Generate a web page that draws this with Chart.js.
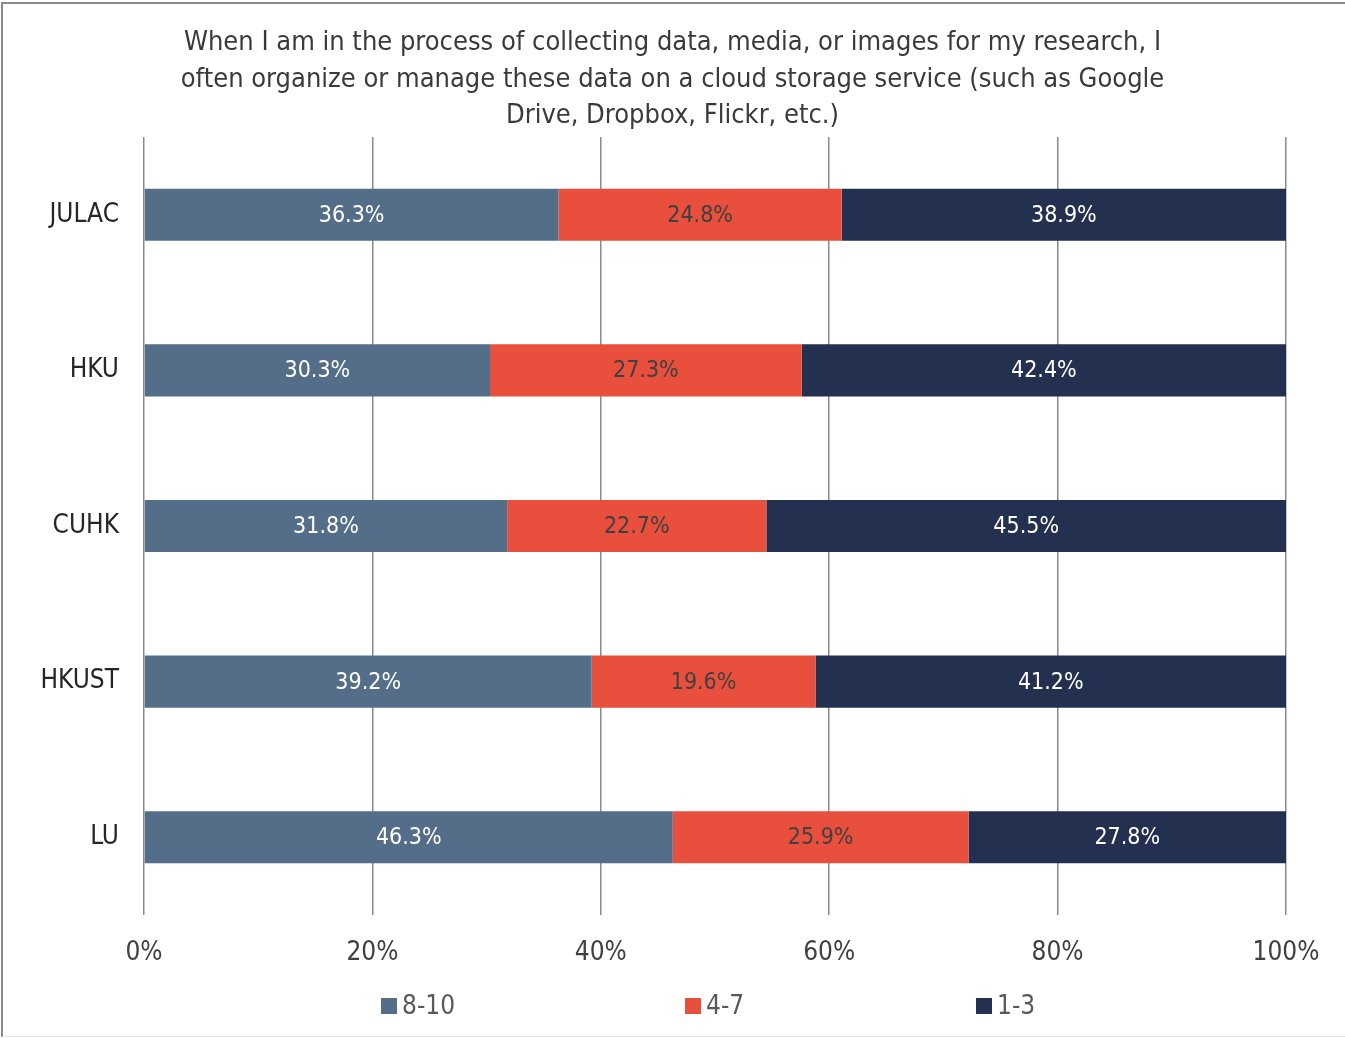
<!DOCTYPE html>
<html>
<head>
<meta charset="utf-8">
<script src="https://cdn.jsdelivr.net/npm/chart.js@4/dist/chart.umd.min.js"></script>
<style>
  body { margin: 0; background: #fff; }
  #wrap { position: relative; width: 1345px; height: 1038px; }
  #frame { position: absolute; left: 1px; top: 2px; right: 0; bottom: 1px;
           border-left: 2px solid #8a8a8a; border-top: 2px solid #8a8a8a;
           border-bottom: 1px solid #e4e4e4; pointer-events: none; }
  canvas { position: absolute; left: 0; top: 0; }
</style>
</head>
<body>
<div id="wrap">
  <canvas id="canvas" width="1345" height="1038"></canvas>
  <div id="frame"></div>
</div>
<script>
const FONT = '"Liberation Sans Narrow", "DejaVu Sans Condensed", "Roboto Condensed", sans-serif';

const titleLines = [
    'When I am in the process of collecting data, media, or images for my research, I',
    'often organize or manage these data on a cloud storage service (such as Google',
    'Drive, Dropbox, Flickr, etc.)'
];
const universities = ['JULAC', 'HKU', 'CUHK', 'HKUST', 'LU'];
const seriesNames = ['8-10', '4-7', '1-3'];
const score8to10 = [36.3, 30.3, 31.8, 39.2, 46.3];
const score4to7 = [24.8, 27.3, 22.7, 19.6, 25.9];
const score1to3 = [38.9, 42.4, 45.5, 41.2, 27.8];
const xTicks = [0, 20, 40, 60, 80, 100];

const colors = ['#546e8a', '#e94f3d', '#24304f'];
const labelColors = ['#ffffff', '#404040', '#ffffff'];

// labels in the middle of each bar piece
const barLabels = {
    id: 'barLabels',
    afterDatasetsDraw(chart) {
        const ctx = chart.ctx;
        ctx.save();
        ctx.font = '23px ' + FONT;
        ctx.textAlign = 'center';
        ctx.textBaseline = 'middle';
        chart.data.datasets.forEach((ds, i) => {
            chart.getDatasetMeta(i).data.forEach((bar, j) => {
                ctx.fillStyle = labelColors[i];
                ctx.fillText(ds.data[j].toFixed(1) + '%', (bar.x + bar.base) / 2, bar.y + 1);
            });
        });
        ctx.restore();
    }
};

// title centred on the whole canvas, not on the padded box
const fullWidthTitle = {
    id: 'fullWidthTitle',
    afterLayout(chart) {
        if (chart.titleBlock) {
            chart.titleBlock.left = 0;
            chart.titleBlock.right = chart.width;
            chart.titleBlock.width = chart.width;
        }
    }
};

// legend drawn by hand so the items can sit far apart like the original
const wideLegend = {
    id: 'wideLegend',
    afterDraw(chart) {
        const ctx = chart.ctx;
        const box = 16, gap = 5, y = 1006;
        const offsets = [-304, 0, 291];
        const mid = (chart.chartArea.left + chart.chartArea.right) / 2 - 30;
        ctx.save();
        ctx.font = '26px ' + FONT;
        ctx.textBaseline = 'middle';
        chart.data.datasets.forEach((ds, i) => {
            const x = mid + offsets[i];
            ctx.fillStyle = ds.backgroundColor;
            ctx.fillRect(x, y - box / 2, box, box);
            ctx.fillStyle = '#595959';
            ctx.fillText(ds.label, x + box + gap, y + 1);
        });
        ctx.restore();
    }
};

const ctx = document.getElementById('canvas').getContext('2d');
window.myChart = new Chart(ctx, {
    type: 'bar',
    data: {
        labels: universities,
        datasets: [score8to10, score4to7, score1to3].map((values, i) => ({
            label: seriesNames[i],
            data: values,
            backgroundColor: colors[i],
            borderWidth: 0,
            barPercentage: 1,
            categoryPercentage: 0.335
        }))
    },
    options: {
        indexAxis: 'y',
        responsive: false,
        animation: false,
        layout: { padding: { left: 0, right: 59, top: 0, bottom: 0 } },
        plugins: {
            legend: { display: false },
            tooltip: { enabled: false },
            title: {
                display: true,
                text: titleLines,
                color: '#3a3a3a',
                font: { family: FONT, size: 27, weight: 'normal', lineHeight: 1.37 },
                padding: { top: 24, bottom: 2 }
            }
        },
        scales: {
            x: {
                stacked: true,
                min: 0,
                max: 100,
                afterBuildTicks: s => { s.ticks = xTicks.map(v => ({ value: v })); },
                afterFit: s => { s.height = 123; },
                grid: { color: '#8a8a8a', lineWidth: 1.5, drawTicks: false },
                border: { display: false },
                ticks: {
                    padding: 23,
                    color: '#404040',
                    font: { family: FONT, size: 26 },
                    callback: v => v + '%'
                }
            },
            y: {
                stacked: true,
                afterFit: s => { s.width = 144; },
                grid: { display: false, drawTicks: false },
                border: { display: false },
                ticks: {
                    padding: 25,
                    color: '#262626',
                    font: { family: FONT, size: 26 }
                }
            }
        }
    },
    plugins: [barLabels, fullWidthTitle, wideLegend]
});
</script>
</body>
</html>
